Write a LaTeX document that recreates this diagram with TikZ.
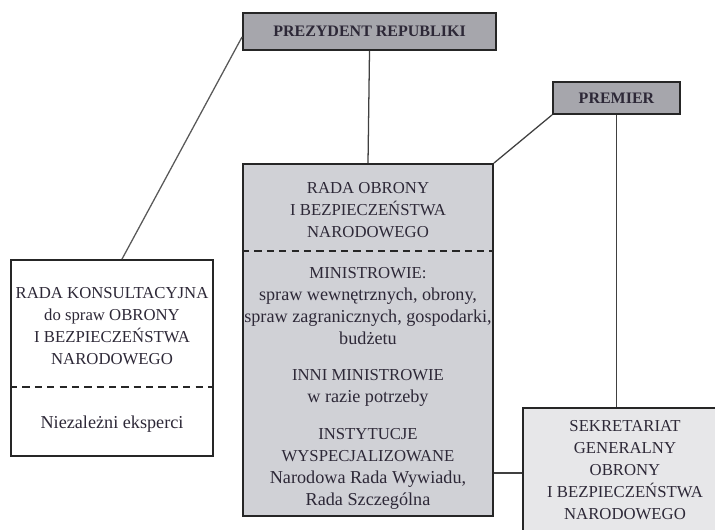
\documentclass[tikz,border=0pt]{standalone}
\usepackage{fontspec}
\setmainfont{Liberation Serif}
\usetikzlibrary{positioning}

\definecolor{headfill}{RGB}{166,166,172}
\definecolor{councilfill}{RGB}{208,209,214}
\definecolor{secfill}{RGB}{231,231,233}
\definecolor{inkcol}{RGB}{45,40,55}
% lower-case lines are set a little larger than the capitals
\newcommand{\lcsize}{\fontsize{10}{12.1}\selectfont}

\begin{document}
\begin{tikzpicture}[x=0.55pt, y=-0.55pt, font=\fontsize{9.2}{12.1}\selectfont, text=inkcol,
    box/.style={draw=black!85, line width=1pt, inner sep=0pt},
    link/.style={draw=black!75, line width=0.7pt},
    sep/.style={draw=black!85, line width=0.8pt, dash pattern=on 4pt off 2.8pt},
    head/.style={font=\fontsize{8.8}{10}\selectfont\bfseries}]
        \useasboundingbox (0,0) rectangle (715,530);
        \clip (0,0) rectangle (715,530);

        \node[box, fill=headfill, minimum width=139.2pt, minimum height=20.4pt, head] (prezydent) at (369.5,31.5) {PREZYDENT REPUBLIKI};
        \node[box, fill=headfill, minimum width=69.9pt, minimum height=17.6pt, head] (premier) at (616.5,98) {PREMIER};

        \node[box, fill=councilfill, minimum width=137.5pt, minimum height=193.6pt] (rada) at (368,340) {};
        \node[align=center] (rada_title) at (368,210) {RADA OBRONY \\ I BEZPIECZEŃSTWA \\ NARODOWEGO};
        \node[align=center] (rada_members) at (368,388) {MINISTROWIE: \\ {\lcsize spraw wewnętrznych, obrony,} \\ {\lcsize spraw zagranicznych, gospodarki,} \\ {\lcsize budżetu} \\[8pt]
            INNI MINISTROWIE \\ {\lcsize w razie potrzeby} \\[8pt]
            INSTYTUCJE \\ WYSPECJALIZOWANE \\ {\lcsize Narodowa Rada Wywiadu,} \\ {\lcsize Rada Szczególna}};
        \draw[sep] ([yshift=-48.4pt]rada.north west) -- ([yshift=-48.4pt]rada.north east);

        \node[box, fill=white, minimum width=111.1pt, minimum height=107.8pt] (konsult) at (112,358) {};
        \node[align=center] (konsult_title) at (112,326) {RADA KONSULTACYJNA \\ do spraw OBRONY \\ I BEZPIECZEŃSTWA \\ NARODOWEGO};
        \node (konsult_experts) at (112,424) {\lcsize Niezależni eksperci};
        \draw[sep] ([yshift=-70.4pt]konsult.north west) -- ([yshift=-70.4pt]konsult.north east);

        \node[box, fill=secfill, minimum width=116.6pt, minimum height=75.4pt] (sekretariat) at (629,476.5) {};
        \node[align=center] (sekretariat_title) at (625,470) {SEKRETARIAT \\ GENERALNY \\ OBRONY \\ I BEZPIECZEŃSTWA \\ NARODOWEGO};

        \draw[link] (prezydent.south) -- (rada.north);
        \draw[link] (rada.north east) -- (premier.south west);
        \draw[link] (premier.south) -- (premier.south |- sekretariat.north);
        \draw[link] ([yshift=1.9pt]sekretariat.west) -- ([yshift=1.9pt]sekretariat.west -| rada.east);
        \draw[link, draw=black!65] ([xshift=5.5pt]konsult.north) -- ([yshift=-3pt]prezydent.west);
    \end{tikzpicture}
\end{document}
